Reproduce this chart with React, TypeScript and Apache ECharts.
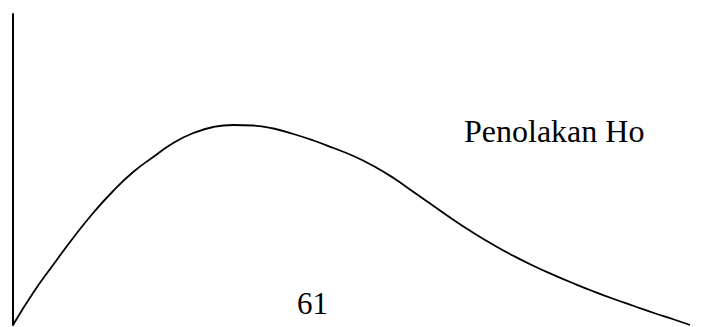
import React, { useEffect, useRef } from "react";
import * as echarts from "echarts";

const xValues = [0, 20, 40, 60, 80, 100, 120, 140, 160, 180, 200, 220, 240, 260, 280, 300, 320, 340, 360, 380, 400, 420, 440, 460, 480, 500, 520, 540, 560, 580, 600, 620, 640, 660, 676];
const yValues = [0, 32, 60, 87, 112, 134, 153, 168, 182, 192, 198, 200, 199.5, 196.5, 191, 184.5, 177, 169, 159, 147, 133, 119, 105, 92, 80, 69, 59, 50, 41.5, 33.5, 26, 19, 12, 5.5, 0];
const regionLabel = "Penolakan Ho";
const bottomLabel = "61";

export default function App() {
  const ref = useRef<HTMLDivElement>(null);
  useEffect(() => {
    const chart = echarts.init(ref.current!, null, { renderer: "svg" });
    chart.setOption({
      animation: false,
      grid: { left: 13, right: 13, top: 14, bottom: 2 },
      xAxis: {
        type: "value",
        min: 0,
        max: 676,
        show: false,
      },
      yAxis: {
        type: "value",
        min: 0,
        max: 311,
        axisLine: { show: true, lineStyle: { color: "#000", width: 2 } },
        axisTick: { show: false },
        axisLabel: { show: false },
        splitLine: { show: false },
      },
      series: [
        {
          type: "line",
          data: xValues.map((x, i) => [x, yValues[i]]),
          smooth: 0.5,
          symbol: "none",
          lineStyle: { color: "#000", width: 1.8 },
        },
      ],
      graphic: [
        {
          type: "text",
          left: 464,
          top: 115,
          style: {
            text: regionLabel,
            font: '32px "Liberation Serif", "Times New Roman", serif',
            fill: "#000",
          },
        },
        {
          type: "text",
          left: 297,
          top: 288,
          style: {
            text: bottomLabel,
            font: '31px "Liberation Serif", "Times New Roman", serif',
            fill: "#000",
          },
        },
      ],
    });
    return () => chart.dispose();
  }, []);
  return <div ref={ref} style={{ width: 703, height: 327, position: "absolute", left: 0, top: 0 }} />;
}
